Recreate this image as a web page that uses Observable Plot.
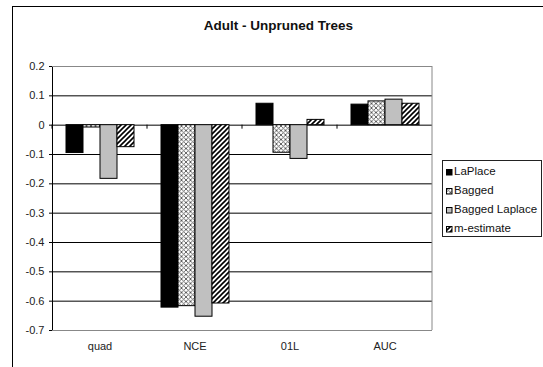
<!DOCTYPE html>
<html><head><meta charset="utf-8">
<script src="https://cdn.jsdelivr.net/npm/d3@7"></script>
<script src="https://cdn.jsdelivr.net/npm/@observablehq/plot@0.6"></script>
<style>
body{margin:0;background:#fff;}
#wrap{position:relative;width:543px;height:367px;overflow:hidden;background:#fff;font-family:Arial,"Liberation Sans",sans-serif;}
#frame{position:absolute;left:12px;top:6px;width:700px;height:500px;border:1px solid #000;}
#title{position:absolute;left:0;top:19px;width:557px;text-align:center;font-weight:bold;font-size:13.5px;line-height:14px;color:#111;}
#chart{position:absolute;left:0;top:0;}
#chart svg text{font-weight:normal;fill:#222;}
#legend{position:absolute;left:442px;top:160px;width:100px;height:77px;box-sizing:border-box;border:1px solid #222;background:#fff;padding:1px 0 0 3px;font-size:11.5px;color:#111;}
#legend .item{height:19px;line-height:19px;white-space:nowrap;}
#legend svg{vertical-align:-1px;margin-right:1px;}
</style>
</head><body>
<div id="wrap">
  <div id="frame"></div>
  <svg width="0" height="0" style="position:absolute">
    <defs>
      <pattern id="pCross" patternUnits="userSpaceOnUse" width="4.5" height="4.5">
        <rect width="4.5" height="4.5" fill="#fff"/>
        <path d="M0,0L4.5,4.5M4.5,0L0,4.5" stroke="#555" stroke-width="0.9"/>
      </pattern>
      <pattern id="pDiag" patternUnits="userSpaceOnUse" width="5" height="5">
        <rect width="5" height="5" fill="#fff"/>
        <path d="M-1,1L1,-1M0,5L5,0M4,6L6,4" stroke="#000" stroke-width="1.6"/>
      </pattern>
    </defs>
  </svg>
  <div id="chart"></div>
  <div id="title">Adult - Unpruned Trees</div>
  <div id="legend"></div>
</div>
<script>
// ---- data ----
const metrics = ["quad", "NCE", "01L", "AUC"];
const series = ["LaPlace", "Bagged", "Bagged Laplace", "m-estimate"];
const laplace = [-0.095, -0.622, 0.073, 0.070];
const bagged = [-0.008, -0.617, -0.094, 0.081];
const baggedLaplace = [-0.183, -0.653, -0.115, 0.087];
const mEstimate = [-0.075, -0.608, 0.018, 0.073];
const yTicks = [0.2, 0.1, 0, -0.1, -0.2, -0.3, -0.4, -0.5, -0.6, -0.7];

// ---- styles ----
const fills = {"LaPlace": "#000", "Bagged": "url(#pCross)", "Bagged Laplace": "#c0c0c0", "m-estimate": "url(#pDiag)"};
const seriesValues = [laplace, bagged, baggedLaplace, mEstimate];
const rows = metrics.flatMap((m, i) => series.map((s, j) => ({metric: m, series: s, value: seriesValues[j][i]})));
const yDomain = [yTicks[yTicks.length - 1], yTicks[0]];
const gridTicks = yTicks.slice(1, -1);
const borderTicks = [yTicks[0], yTicks[yTicks.length - 1]];

// category boundary ticks below the zero line (drawn at each facet's left edge)
const boundaryTicks = (index, {x, y}) => {
  const x0 = x.range()[0];
  return d3.create("svg:line")
    .attr("x1", x0).attr("x2", x0)
    .attr("y1", y(0)).attr("y2", y(0) + 4)
    .attr("stroke", "#000").node();
};
// right border of plot area, only in the last facet
let facetCount = 0;
const rightBorder = (index, {x, y}) => {
  facetCount = facetCount % metrics.length + 1;
  const g = d3.create("svg:g");
  if (facetCount === metrics.length) {
    const x1 = x.range()[1];
    g.append("line").attr("x1", x1).attr("x2", x1)
      .attr("y1", y(yDomain[1])).attr("y2", y(yDomain[0]))
      .attr("stroke", "#888");
  }
  return g.node();
};

const chart = Plot.plot({
  width: 543,
  height: 367,
  marginLeft: 51,
  marginRight: 111,
  marginTop: 66,
  marginBottom: 37,
  style: {background: "transparent", fontFamily: "Arial, 'Liberation Sans', sans-serif", fontSize: "11px", color: "#000"},
  facet: {data: rows, x: "metric"},
  fx: {domain: metrics, padding: 0, axis: "bottom", tickSize: 0, tickPadding: 12, label: null},
  x: {domain: series, paddingInner: 0, paddingOuter: 0.75, axis: null},
  y: {domain: yDomain, ticks: yTicks, tickFormat: d => String(Math.round(d * 10) / 10), tickSize: 3, tickPadding: 5, line: true, label: null},
  color: {type: "identity"},
  marks: [
    Plot.ruleY(borderTicks, {stroke: "#888"}),
    Plot.ruleY(gridTicks, {stroke: "#000"}),
    Plot.barY(rows, {x: "series", y: "value", fill: d => fills[d.series], stroke: "#000", strokeWidth: 1}),
    boundaryTicks,
    rightBorder
  ]
});
document.getElementById("chart").appendChild(chart);

// ---- legend ----
const legend = d3.select("#legend");
for (const s of series) {
  const item = legend.append("div").attr("class", "item");
  const sw = item.append("svg").attr("width", 7).attr("height", 7);
  sw.append("rect").attr("x", 0.5).attr("y", 0.5).attr("width", 5.5).attr("height", 5.5)
    .attr("fill", fills[s]).attr("stroke", "#000");
  item.append("span").text(s);
}
</script>
</body></html>
